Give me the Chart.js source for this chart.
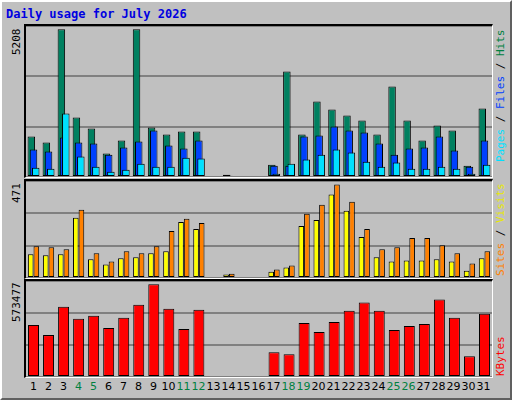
<!DOCTYPE html>
<html>
<head>
<meta charset="utf-8">
<script src="https://cdn.jsdelivr.net/npm/chart.js@4/dist/chart.umd.min.js"></script>
<style>
  body { margin: 0; background: #fff; }
  #frame { position: absolute; left: 0; top: 0; width: 508px; height: 396px; background: #c0c0c0;
           border-top: 2px solid #fff; border-left: 2px solid #fff; border-right: 2px solid #606060; border-bottom: 2px solid #606060; }
  .title { position: absolute; left: 6px; top: 7px; font: bold 12px "DejaVu Sans Mono", monospace; color: #0000e0; }
  .panel { position: absolute; left: 24px; width: 466px; border-top: 2px solid #000; border-left: 2px solid #000;
           border-right: 1px solid #fff; border-bottom: 1px solid #fff; }
  .panel canvas { display: block; }
  .vlab { position: absolute; font: 11px "DejaVu Sans Mono", monospace; white-space: nowrap;
          transform-origin: left top; transform: rotate(-90deg); }
  #days { position: absolute; left: 26px; top: 380px; width: 465px; height: 14px; }
  #days span { position: absolute; width: 15px; text-align: center; font: 11px "DejaVu Sans", sans-serif; }
</style>
</head>
<body>
<div id="frame"></div>
<div class="title">Daily usage for July 2026</div>

<div class="panel" style="top:24px;height:151px"><canvas id="c1" width="466" height="151"></canvas></div>
<div class="panel" style="top:179px;height:97px"><canvas id="c2" width="466" height="97"></canvas></div>
<div class="panel" style="top:279px;height:96px"><canvas id="c3" width="466" height="96"></canvas></div>

<div class="vlab" style="left:10px;top:55px">5208</div>
<div class="vlab" style="left:10px;top:203px">471</div>
<div class="vlab" style="left:10px;top:322px">573477</div>

<div class="vlab" style="left:494px;top:162px"><span style="color:#00e0ff">Pages</span> / <span style="color:#0040ff">Files</span> / <span style="color:#008040">Hits</span></div>
<div class="vlab" style="left:494px;top:276px"><span style="color:#ff8000">Sites</span> / <span style="color:#e8e800">Visits</span></div>
<div class="vlab" style="left:494px;top:376px"><span style="color:#ff0000">KBytes</span></div>

<div id="days"></div>

<script>
let days = ["1","2","3","4","5","6","7","8","9","10","11","12","13","14","15","16","17","18","19","20","21","22","23","24","25","26","27","28","29","30","31"];
let weekend = [4,5,11,12,18,19,25,26];

let hits  = [1426,1214,5208,2097,1708,825,1284,5208,1744,1496,1602,1602,0,82,0,0,436,3723,1496,2663,2380,2168,1991,1496,3193,1991,1284,1814,1638,400,2415];
let files = [966,896,1390,1214,1178,789,1037,1249,1638,1108,1001,1284,0,47,0,0,400,400,1426,1461,1779,1638,1567,1178,789,1001,1037,1426,931,365,1284];
let pages = [330,295,2239,719,365,189,259,471,365,365,683,648,0,35,0,0,118,471,613,789,966,860,542,365,507,295,295,365,295,118,436];

let visits = [119,114,119,303,94,68,99,104,124,134,282,247,0,17,0,0,32,53,262,292,420,338,206,104,83,88,88,94,83,37,99];
let sites  = [160,155,145,343,124,83,134,124,160,236,298,277,0,22,0,0,43,63,323,369,471,384,247,145,155,201,201,165,124,73,134];

let kbytes = [322300,259500,435300,360000,378800,303500,366300,447900,573477,422800,297200,416500,0,6000,0,0,152800,140200,334900,278400,341200,410200,460400,410200,290900,316000,328600,479300,366300,127700,391400];

// day labels under the chart
let daysDiv = document.getElementById("days");
days.forEach(function (d, i) {
    let s = document.createElement("span");
    s.textContent = d;
    s.style.left = (i * 15) + "px";
    s.style.color = weekend.includes(i + 1) ? "#008040" : "#000";
    daysDiv.appendChild(s);
});

// draw datasets first to last, so the right-hand bar sits on top
let drawInOrder = {
    id: "drawInOrder",
    beforeDatasetsDraw: function (chart) {
        for (let i = 0; i < chart.data.datasets.length; i++) {
            chart.getDatasetMeta(i).controller.draw();
        }
        return false;
    }
};

function makeChart(id, sets, top, catPct, barPct) {
    new Chart(document.getElementById(id), {
        type: "bar",
        data: {
            labels: days,
            datasets: sets.map(function (s) {
                return {
                    data: s.data,
                    backgroundColor: s.color,
                    borderColor: "#000",
                    borderWidth: 1,
                    borderSkipped: false,
                    categoryPercentage: catPct,
                    barPercentage: barPct
                };
            })
        },
        options: {
            responsive: false,
            animation: false,
            layout: { padding: 0 },
            plugins: { legend: { display: false }, tooltip: { enabled: false } },
            scales: {
                x: { display: false, grid: { display: false } },
                y: {
                    min: 0, max: top,
                    afterBuildTicks: function (ax) {
                        ax.ticks = [0, top / 3, top * 2 / 3, top].map(function (v) { return { value: v }; });
                    },
                    ticks: { display: false },
                    border: { display: false },
                    grid: { color: "#808080", lineWidth: 2, drawTicks: false }
                }
            }
        },
        plugins: [drawInOrder]
    });
}

makeChart("c1", [
    { data: hits, color: "#008060" },
    { data: files, color: "#0040ff" },
    { data: pages, color: "#00e0ff" }
], 5325, 0.44, 3.4);

makeChart("c2", [
    { data: visits, color: "#ffff00" },
    { data: sites, color: "#ff8000" }
], 488, 0.75, 1);

makeChart("c3", [
    { data: kbytes, color: "#ff0000" }
], 594200, 0.73, 1);
</script>
</body>
</html>
